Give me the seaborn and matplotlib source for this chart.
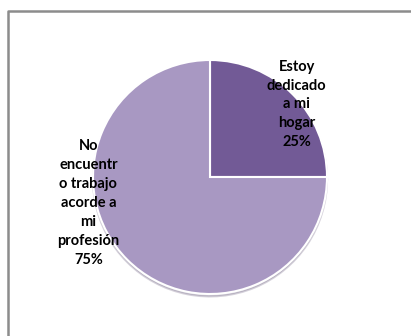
import matplotlib
matplotlib.use('Agg')
import matplotlib.pyplot as plt
import seaborn as sns
from matplotlib.lines import Line2D

# datos
categorias = ['Estoy\ndedicado\na mi\nhogar', 'No\nencuentr\no trabajo\nacorde a\nmi\nprofesión']
valores = [25, 75]
colores = ['#725a96', '#a898c2']

sns.set_theme(style='white')
plt.rcParams['font.family'] = ['Lato', 'DejaVu Sans']

fig = plt.figure(figsize=(4.11, 3.36), dpi=100)
fig.patch.set_facecolor('white')

# marco del grafico (solo se ven el borde izquierdo y el superior)
x0, y0 = 7.5 / 411, 1 - 10.5 / 336
fig.add_artist(Line2D([x0, x0, 1.01], [-0.01, y0, y0], transform=fig.transFigure,
                      color='#8c8c8c', linewidth=1.8))

ax = fig.add_axes([93 / 411, 42 / 336, 234 / 411, 234 / 336])
wedges, _ = ax.pie(valores, colors=colores, startangle=90, counterclock=False,
                   wedgeprops={'edgecolor': 'white', 'linewidth': 1.5},
                   shadow={'ox': 0.0, 'oy': -0.015, 'shade': 0.3, 'alpha': 0.3})
ax.set_xlim(-1, 1)
ax.set_ylim(-1, 1)
ax.set_aspect('equal')

# etiquetas
pos = [(0.74, 0.62), (-1.04, -0.22)]
for cat, v, (x, y) in zip(categorias, valores, pos):
    ax.text(x, y, f'{cat}\n{v}%', ha='center', va='center', multialignment='center',
            fontsize=10.5, fontweight='bold', color='black', linespacing=1.45)

plt.savefig('out.png', dpi=100)
